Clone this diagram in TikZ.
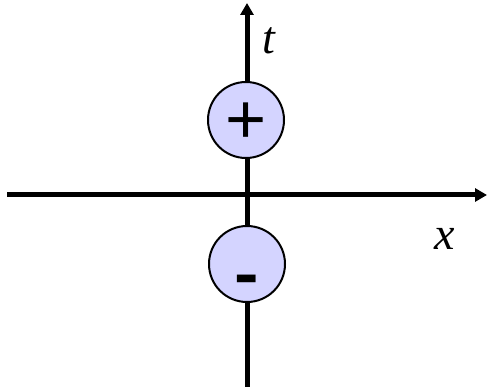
\documentclass[tikz,border=0pt]{standalone}
\usepackage{fontspec}
\setmainfont{Liberation Serif}
\newfontfamily\signfont{Liberation Sans}
\usetikzlibrary{arrows.meta}

\begin{document}
\begin{tikzpicture}[x=0.5pt, y=-0.5pt,
  axis/.style={line width=2.5pt, -{Triangle[length=6pt, width=6.5pt]}},
  charge/.style={draw, circle, line width=1pt, fill=blue!17, minimum size=38pt, inner sep=0pt, font=\signfont\fontsize{32}{32}\selectfont},
  lab/.style={font=\fontsize{23}{23}\selectfont\itshape}]
\useasboundingbox (0,0) rectangle (487,389);

\coordinate (xl) at (7,195);
\coordinate (xr) at (487,195);
\coordinate (tb) at (247,387);
\coordinate (tt) at (247,3);

\draw[axis] (xl) -- (xr);
\draw[axis] (tb) -- (tt);

\node[charge] (pos) at (246,120) {\raisebox{-12pt}[0pt][0pt]{\scalebox{1.1}{+}}};
\node[charge] (neg) at (247,264) {\raisebox{-16pt}[0pt][0pt]{\scalebox{1.15}[1]{\textbf{-}}}};

\node[lab] (tlab) at (269,41) {t};
\node[lab] (xlab) at (445,239) {x};
\end{tikzpicture}
\end{document}
